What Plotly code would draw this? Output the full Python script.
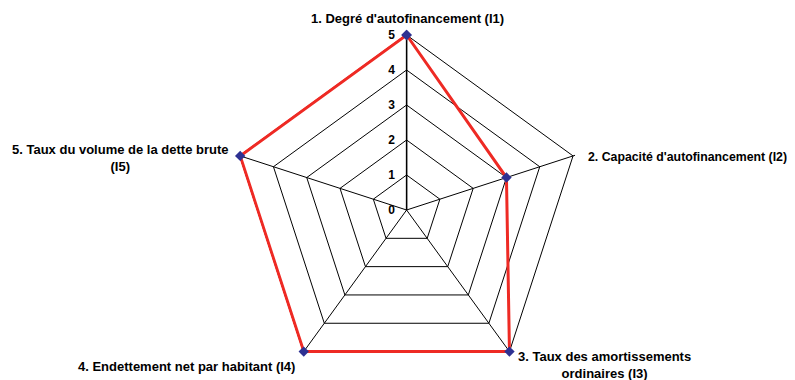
import plotly.graph_objects as go

categories = ["I1", "I2", "I3", "I4", "I5"]
axis_labels = [
    "1. Degré d'autofinancement (I1)",
    "2. Capacité d'autofinancement (I2)",
    "3. Taux des amortissements<br>ordinaires (I3)",
    "4. Endettement net par habitant (I4)",
    "5. Taux du volume de la dette brute<br>(I5)",
]
values = [5, 3, 5, 5, 5]
radial_ticks = [0, 1, 2, 3, 4, 5]
r_max = 5.06  # small headroom so the outer line is not clipped

W, H = 795, 380
OFF = 8  # page body margin
R5 = 175.0                     # pixel radius of level 5
R = R5 * r_max / 5             # pixel radius of the polar domain
cx = 406.6 - OFF
cy = 35 - OFF + R5


def px(x):
    return (x - OFF) / W


def py(y):
    return 1 - (y - OFF) / H


fig = go.Figure()
fig.add_trace(go.Scatterpolar(
    r=values + [values[0]],
    theta=categories + [categories[0]],
    mode="lines+markers",
    line=dict(color="#ee2a24", width=3),
    marker=dict(symbol="diamond", color="#2e3192", size=8),
    cliponaxis=False,
    showlegend=False,
    hoverinfo="skip",
))

# axis label annotations: (x, y, xanchor, size)
label_pos = [
    (407, 19, "center", 13),
    (586, 157, "left", 12.3),
    (604, 365, "center", 13),
    (297, 366, "right", 13),
    (120, 158, "center", 13),
]
for txt, (x, y, xa, fs) in zip(axis_labels, label_pos):
    fig.add_annotation(
        text=txt, x=px(x), y=py(y), xref="paper", yref="paper",
        xanchor=xa, yanchor="middle", align="center", showarrow=False,
        font=dict(size=fs, weight="bold", color="black"),
    )

fig.update_layout(
    width=W, height=H,
    margin=dict(l=0, r=0, t=0, b=0),
    paper_bgcolor="white",
    font=dict(family="Liberation Sans, Arial, sans-serif", size=11, color="black"),
    polar=dict(
        domain=dict(x=[(cx - R) / W, (cx + R) / W],
                    y=[1 - (cy + R) / H, 1 - (cy - R) / H]),
        bgcolor="white",
        gridshape="linear",
        radialaxis=dict(
            range=[0, r_max],
            tickvals=radial_ticks,
            ticktext=[str(t) + "\u00a0\u00a0" for t in radial_ticks],
            angle=90,
            tickangle=90,
            side="counterclockwise",
            showline=True,
            linecolor="black",
            linewidth=1.5,
            gridcolor="black",
            gridwidth=1,
            ticks="",
            layer="below traces",
            tickfont=dict(size=12, weight="bold", color="black"),
        ),
        angularaxis=dict(
            type="category",
            categoryarray=categories,
            direction="clockwise",
            rotation=90,
            showline=False,
            gridcolor="black",
            gridwidth=1,
            ticks="",
            showticklabels=False,
            layer="below traces",
        ),
    ),
)

fig.write_html("out.html")
